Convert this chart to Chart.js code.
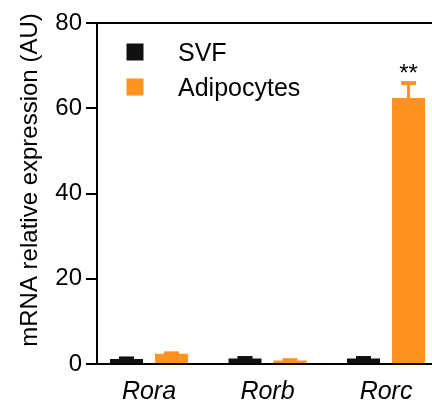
<!DOCTYPE html>
<html>
<head>
<meta charset="utf-8">
<script src="https://cdn.jsdelivr.net/npm/chart.js@4/dist/chart.umd.min.js"></script>
<style>
  html, body { margin: 0; padding: 0; background: #fff; }
  #wrap { width: 432px; height: 405px; }
</style>
</head>
<body>
<div id="wrap"><canvas id="chart" width="432" height="405"></canvas></div>
<script>
const genes = ['Rora', 'Rorb', 'Rorc'];
const svf = [1.2, 1.3, 1.3];
const svfErr = [0.1, 0.1, 0.1];
const adipocytes = [2.4, 0.8, 62.4];
const adipocytesErr = [0.1, 0.1, 3.5];
const adipocytesStars = ['', '', '**'];
const yTicks = [0, 20, 40, 60, 80];
const yTitle = 'mRNA relative expression (AU)';

const FONT = '"Liberation Sans", Arial, sans-serif';
const BLACK = '#111111';
const ORANGE = '#FF931E';

// error bars, significance stars, legend and axis title
const decor = {
    id: 'decor',
    afterDatasetsDraw(chart) {
        const ctx = chart.ctx;
        const y = chart.scales.y;
        ctx.save();
        chart.data.datasets.forEach((ds, i) => {
            const meta = chart.getDatasetMeta(i);
            meta.data.forEach((bar, j) => {
                const top = y.getPixelForValue(ds.data[j].y + ds.errors[j]);
                ctx.fillStyle = ds.backgroundColor;
                ctx.fillRect(bar.x - 1.5, top, 3, bar.y - top);
                ctx.fillRect(bar.x - 7.5, top - 2, 15, 4);
                const star = ds.stars && ds.stars[j];
                if (star) {
                    ctx.fillStyle = '#000';
                    ctx.font = '24px ' + FONT;
                    ctx.textAlign = 'center';
                    ctx.textBaseline = 'alphabetic';
                    ctx.fillText(star, bar.x, top - 2);
                }
            });
        });

        // legend
        ctx.font = '25px ' + FONT;
        ctx.textAlign = 'left';
        ctx.textBaseline = 'alphabetic';
        chart.data.datasets.forEach((ds, i) => {
            const cy = 52 + i * 35;
            ctx.fillStyle = ds.backgroundColor;
            ctx.fillRect(126.5, cy - 8.5, 17, 17);
            ctx.fillStyle = '#000';
            ctx.fillText(ds.label, 178, cy + 9);
        });

        // y axis title
        ctx.translate(30, 180);
        ctx.rotate(-Math.PI / 2);
        ctx.font = '24px ' + FONT;
        ctx.textAlign = 'center';
        ctx.textBaseline = 'middle';
        ctx.fillStyle = '#000';
        ctx.fillText(yTitle, 0, 0);
        ctx.restore();
    }
};

const toPoints = (values) => values.map((v, i) => ({ x: i, y: v }));

new Chart(document.getElementById('chart'), {
    type: 'bar',
    data: {
        datasets: [
            { label: 'SVF', data: toPoints(svf), errors: svfErr, backgroundColor: BLACK, categoryPercentage: 0.76, barPercentage: 0.733 },
            { label: 'Adipocytes', data: toPoints(adipocytes), errors: adipocytesErr, stars: adipocytesStars, backgroundColor: ORANGE, categoryPercentage: 0.76, barPercentage: 0.733 },
        ]
    },
    options: {
        responsive: false,
        animation: false,
        devicePixelRatio: 1,
        layout: { padding: { top: 23, left: 0, right: 0, bottom: 0 } },
        plugins: { legend: { display: false }, tooltip: { enabled: false } },
        scales: {
            x: {
                type: 'linear', min: -0.4388, max: 2.388, offset: false, bounds: 'data',
                afterBuildTicks: (s) => { s.ticks = genes.map((g, i) => ({ value: i })); },
                afterFit: (s) => { s.height = 41; },
                grid: { display: false, drawTicks: false, offset: false },
                border: { display: true, color: '#000', width: 2 },
                ticks: { callback: (v) => genes[v], font: { family: FONT, size: 25, style: 'italic' }, color: '#000', padding: 13, maxRotation: 0, autoSkip: false }
            },
            y: {
                min: 0, max: 80,
                afterBuildTicks: (s) => { s.ticks = yTicks.map((v) => ({ value: v })); },
                afterFit: (s) => { s.width = 97; },
                grid: { color: (c) => c.tick && c.tick.value === 80 ? '#000' : 'rgba(0,0,0,0)', lineWidth: 2, tickColor: '#000', tickLength: 11 },
                border: { color: '#000', width: 2 },
                ticks: { font: { family: FONT, size: 24 }, color: '#000', padding: 4 }
            }
        }
    },
    plugins: [decor]
});
</script>
</body>
</html>
